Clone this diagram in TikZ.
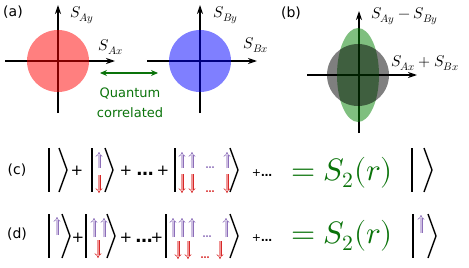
\documentclass[tikz,border=0pt]{standalone}
\usepackage{fontspec}
\usepackage{unicode-math}
\setmainfont{DejaVu Sans}
\setmathfont{Latin Modern Math}
\usepackage{tikz}
\usetikzlibrary{arrows.meta,positioning}

\definecolor{qgreen}{RGB}{10,115,10}
\definecolor{spinpurple}{RGB}{140,110,185}
\definecolor{spinpurplefill}{RGB}{205,190,225}
\definecolor{spinred}{RGB}{215,40,40}
\definecolor{spinredfill}{RGB}{240,150,150}

\begin{document}
\begin{tikzpicture}[x=1pt,y=-1pt]

\tikzset{
  panellabel/.style={font=\fontsize{14}{14}\selectfont, inner sep=0pt},
  axislabel/.style={font=\fontsize{15.5}{15.5}\selectfont, inner sep=0pt},
  axis/.style={black, line width=1.2pt, -{Stealth[length=9pt, width=6pt]}},
  corr/.style={qgreen, line width=1.2pt, {Stealth[length=7pt, width=6pt]}-{Stealth[length=7pt, width=6pt]}},
  corrtext/.style={font=\fontsize{13}{13}\selectfont, text=qgreen, align=center, inner sep=0pt},
  ketline/.style={black, line width=1.6pt},
  upspin/.style={draw=spinpurple, double=spinpurplefill, double distance=1.8pt, line width=0.6pt,
                 -{Implies[length=3pt]}},
  downspin/.style={draw=spinred, double=spinredfill, double distance=1.8pt, line width=0.6pt,
                 -{Implies[length=3pt]}},
  opsign/.style={font=\fontsize{15}{15}\selectfont, inner sep=0pt, anchor=base},
  opdots/.style={font=\fontsize{17}{17}\selectfont\bfseries, inner sep=0pt, anchor=base},
  smallop/.style={font=\fontsize{11}{11}\selectfont, inner sep=0pt, anchor=base},
  updots/.style={font=\fontsize{9}{9}\selectfont\bfseries, text=spinpurple, inner sep=0pt, anchor=base},
  downdots/.style={font=\fontsize{9}{9}\selectfont\bfseries, text=spinred, inner sep=0pt, anchor=base},
  result/.style={font=\fontsize{31}{31}\selectfont, text=qgreen, inner sep=0pt, anchor=base west}
}

% bar x, tip x, centre y
\newcommand{\ketsym}[3]{
  \draw[ketline] (#1,#3-22) -- (#1,#3+22);
  \draw[ketline, line width=1.4pt] (#2-8,#3-22) -- (#2,#3) -- (#2-8,#3+22);
}
% x, top, bottom
\newcommand{\spinup}[3]{\draw[upspin] (#1,#3) -- (#1,#2);}
\newcommand{\spindown}[3]{\draw[downspin] (#1,#2) -- (#1,#3);}

\useasboundingbox (0,0) rectangle (469,268);

% Panel (a)
\node[panellabel] (pa) at (13,12) {(a)};
\coordinate (axl) at (5,61);
\coordinate (axr) at (115,61);
\coordinate (ayb) at (58,113);
\coordinate (ayt) at (58,5);
\draw[axis] (axl) -- (axr);
\draw[axis] (ayb) -- (ayt);
\fill[red, opacity=0.5] (58,61) circle [radius=31];
\node[axislabel] (say) at (82,15) {$S_{Ay}$};
\node[axislabel] (sax) at (111,47) {$S_{Ax}$};

\coordinate (bxl) at (147,61);
\coordinate (bxr) at (257,61);
\coordinate (byb) at (200,113);
\coordinate (byt) at (200,5);
\draw[axis] (bxl) -- (bxr);
\draw[axis] (byb) -- (byt);
\fill[blue, opacity=0.5] (200,61) circle [radius=31];
\node[axislabel] (sby) at (226,15) {$S_{By}$};
\node[axislabel] (sbx) at (256,45) {$S_{Bx}$};

\coordinate (cl) at (100,73);
\coordinate (cr) at (158,73);
\draw[corr] (cl) -- (cr);
\node[corrtext] (qc) at (130,103) {Quantum\\[7pt]correlated};

% Panel (b)
\node[panellabel] (pb) at (291,13) {(b)};
\coordinate (dxl) at (307,75);
\coordinate (dxr) at (417,75);
\coordinate (dyb) at (359,133);
\coordinate (dyt) at (359,11);
\draw[axis] (dxl) -- (dxr);
\draw[axis] (dyb) -- (dyt);
\fill[green!50!black, opacity=0.5] (358,75) ellipse [x radius=21, y radius=47];
\fill[black, opacity=0.5] (358,75) circle [radius=31];
\node[axislabel, anchor=west] (sdiff) at (371,16) {$S_{Ay}-S_{By}$};
\node[axislabel, anchor=west] (ssum) at (391,63) {$S_{Ax}+S_{Bx}$};

% Row (c)
\node[panellabel] (pc) at (17,170) {(c)};
\ketsym{49}{67}{170}
\node[opsign] (c1) at (77,175) {+};
\ketsym{92}{113}{170}
\spinup{99}{152}{168}
\spindown{99}{175}{193}
\node[opsign] (c2) at (126,175) {+};
\node[opdots] (c3) at (145,175) {\ldots};
\node[opsign] (c4) at (163,175) {+};
\ketsym{175}{238}{170}
\spinup{182}{152}{168}
\spinup{192}{152}{168}
\spinup{227}{152}{168}
\spindown{182}{174}{193}
\spindown{192}{174}{193}
\spindown{227}{174}{193}
\node[updots] (c5) at (210,168) {\ldots};
\node[downdots] (c6) at (210,192) {\ldots};
\node[smallop] (c7) at (262,176) {+\textbf{\ldots}};
\node[result] (c8) at (291,180) {$= S_2(r)$};
\ketsym{412}{432}{170}

% Row (d)
\node[panellabel] (pd) at (17,234) {(d)};
\ketsym{49}{70}{236}
\spinup{57}{217}{235}
\node[opsign] (d1) at (78,242) {+};
\ketsym{86}{115}{236}
\spinup{94}{218}{237}
\spinup{104}{218}{237}
\spindown{98}{240}{258}
\node[opsign] (d2) at (126,242) {+};
\node[opdots] (d3) at (144,242) {\ldots};
\node[opsign] (d4) at (157,242) {+};
\ketsym{166}{238}{236}
\spinup{173}{218}{237}
\spinup{182}{218}{237}
\spinup{192}{218}{237}
\spinup{226}{218}{237}
\spindown{178}{241}{259}
\spindown{188}{241}{259}
\spindown{220}{241}{259}
\node[updots] (d5) at (207,237) {\ldots};
\node[downdots] (d6) at (205,258) {\ldots};
\node[smallop] (d7) at (262,241) {+\textbf{\ldots}};
\node[result] (d8) at (291,243) {$= S_2(r)$};
\ketsym{413}{436}{236}
\spinup{421}{215}{233}

\end{tikzpicture}
\end{document}
